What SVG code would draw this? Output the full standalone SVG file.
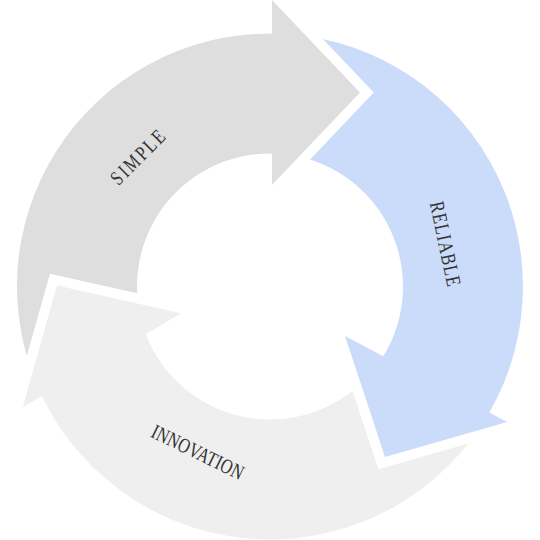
<svg xmlns="http://www.w3.org/2000/svg" width="540" height="540" viewBox="0 0 540 540">
<defs>
<style>
.arrow{stroke:#ffffff;stroke-width:20;stroke-linejoin:miter;stroke-miterlimit:10;paint-order:stroke}
.grey{fill:#dedede}
.light{fill:#efefef}
.blue{fill:#cadcfa}
.lbl{font-family:"Liberation Serif","DejaVu Serif",serif;font-size:16px;fill:#333333;text-anchor:middle}
</style>
<clipPath id="headClip"><rect x="0" y="250" width="215" height="195"/></clipPath>
</defs>
<g id="node-innovation">
<path class="arrow light" d="M 489.3 412.6 A 253 253 0 0 1 41.9 395.9 L 22.7 407.3 L 57 285.5 L 181 313.3 L 145.8 334.2 A 133 133 0 0 0 383.2 356.3 Z"/>
</g>
<g id="node-reliable">
<path class="arrow blue" d="M 272 33.5 A 253 253 0 0 1 489.3 412.6 L 507 422 L 385 457 L 345 336 L 383.2 356.3 A 133 133 0 0 0 272 153.5 Z"/>
<g transform="translate(445,244) rotate(78) scale(1,1.3)"><text class="lbl" x="0" y="5" textLength="86" lengthAdjust="spacing">RELIABLE</text></g>
</g>
<g id="node-simple">
<path class="arrow grey" d="M 41.9 395.9 A 253 253 0 0 1 272 33.5 L 272 0 L 360 92.5 L 272 185 L 272 153.5 A 133 133 0 0 0 145.8 334.2 Z"/>
<g transform="translate(138,157.5) rotate(-45) scale(1,1.3)"><text class="lbl" x="0" y="5" textLength="68" lengthAdjust="spacing">SIMPLE</text></g>
</g>
<g id="node-innovation-head">
<path class="arrow light" clip-path="url(#headClip)" d="M 489.3 412.6 A 253 253 0 0 1 41.9 395.9 L 22.7 407.3 L 57 285.5 L 181 313.3 L 145.8 334.2 A 133 133 0 0 0 383.2 356.3 Z"/>
<g transform="translate(197.5,452.5) rotate(26) scale(1,1.3)"><text class="lbl" x="0" y="5" textLength="100" lengthAdjust="spacing">INNOVATION</text></g>
</g>
</svg>
